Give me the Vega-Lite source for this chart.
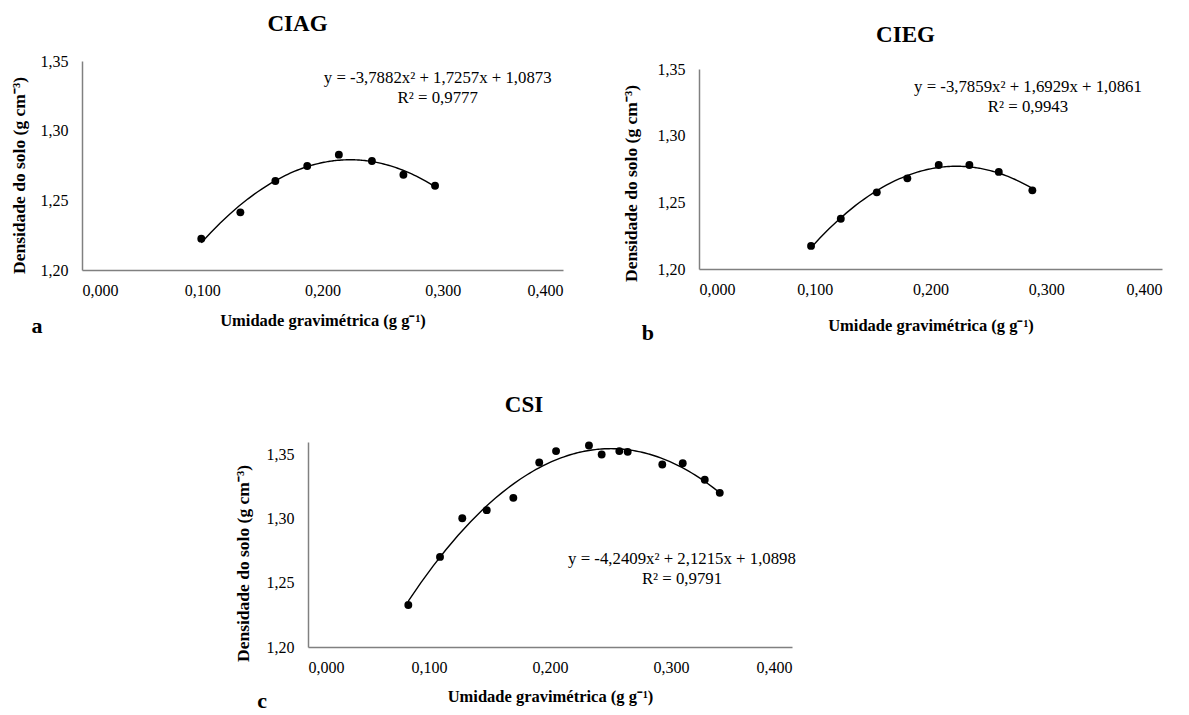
{
  "$schema": "https://vega.github.io/schema/vega-lite/v6.json",
  "autosize": {"type": "none"},
  "padding": {"left": 82, "top": 61, "right": 1107, "bottom": 654},
  "background": "white",
  "config": {
    "view": {"stroke": null},
    "font": "Liberation Serif",
    "axis": {
      "ticks": false,
      "grid": false,
      "domainColor": "#808080",
      "domainWidth": 1.5,
      "labelFont": "Liberation Serif",
      "labelFontSize": 16,
      "labelColor": "#000000",
      "titleFont": "Liberation Serif",
      "titleFontSize": 16.5,
      "titleFontWeight": "bold",
      "titleColor": "#000000"
    },
    "axisX": {"labelPadding": 12, "titleBaseline": "middle"},
    "axisY": {"labelPadding": 14, "titleBaseline": "middle", "titleFontSize": 17.5},
    "title": {"font": "Liberation Serif", "fontSize": 23, "fontWeight": "bold", "color": "#000000", "frame": "group", "anchor": "middle"}
  },
  "datasets": {
    "a": [
      {"x": 0.0992, "y": 1.2225},
      {"x": 0.1317, "y": 1.2414},
      {"x": 0.1608, "y": 1.2639},
      {"x": 0.1873, "y": 1.2746},
      {"x": 0.2136, "y": 1.2828},
      {"x": 0.2411, "y": 1.2782},
      {"x": 0.2673, "y": 1.2684},
      {"x": 0.2936, "y": 1.2605}
    ],
    "b": [
      {"x": 0.0968, "y": 1.2173},
      {"x": 0.1225, "y": 1.2377},
      {"x": 0.1536, "y": 1.2575},
      {"x": 0.1800, "y": 1.2680},
      {"x": 0.2071, "y": 1.2780},
      {"x": 0.2336, "y": 1.2780},
      {"x": 0.2590, "y": 1.2728},
      {"x": 0.2880, "y": 1.2590}
    ],
    "c": [
      {"x": 0.0829, "y": 1.2328},
      {"x": 0.1091, "y": 1.2703},
      {"x": 0.1275, "y": 1.3005},
      {"x": 0.1477, "y": 1.3068},
      {"x": 0.1697, "y": 1.3164},
      {"x": 0.1911, "y": 1.3440},
      {"x": 0.2050, "y": 1.3529},
      {"x": 0.2322, "y": 1.3573},
      {"x": 0.2427, "y": 1.3502},
      {"x": 0.2573, "y": 1.3529},
      {"x": 0.2642, "y": 1.3523},
      {"x": 0.2928, "y": 1.3424},
      {"x": 0.3097, "y": 1.3435},
      {"x": 0.3279, "y": 1.3305},
      {"x": 0.3403, "y": 1.3203}
    ],
    "one": [{"k": 1}]
  },
  "bounds": "flush",
  "spacing": 381,
  "vconcat": [
    {
      "bounds": "flush",
      "spacing": 0,
      "hconcat": [
        {
          "width": 481,
          "height": 209,
          "title": {"text": "CIAG", "dx": -25, "offset": 17},
          "layer": [
            {"data": {"name": "a"}, "mark": {"type": "circle", "size": 62, "color": "#000000", "opacity": 1},
             "encoding": {
               "x": {"field": "x", "type": "quantitative", "scale": {"domain": [0, 0.4], "nice": false},
                 "axis": {"values": [0, 0.1, 0.2, 0.3, 0.4], "labelExpr": "replace(format(datum.value,'.3f'),'.',',')", "title": "Umidade gravimétrica (g g⁻¹)", "titleY": 50}},
               "y": {"field": "y", "type": "quantitative", "scale": {"domain": [1.2, 1.35], "zero": false, "nice": false},
                 "axis": {"values": [1.2, 1.25, 1.3, 1.35], "labelExpr": "replace(format(datum.value,'.2f'),'.',',')", "title": "Densidade do solo (g cm⁻³)", "titleX": -63, "titleY": 114}}
             }},
            {"data": {"name": "a"}, "transform": [{"regression": "y", "on": "x", "method": "poly", "order": 2}],
             "mark": {"type": "line", "color": "#000000", "strokeWidth": 1.4},
             "encoding": {"x": {"field": "x", "type": "quantitative", "scale": {"domain": [0, 0.4], "nice": false}}, "y": {"field": "y", "type": "quantitative", "scale": {"domain": [1.2, 1.35], "zero": false, "nice": false}}}},
            {"data": {"name": "one"},
             "mark": {"type": "text", "fontSize": 16.8, "align": "center", "baseline": "middle", "lineHeight": 20, "color": "#000000"},
             "encoding": {"x": {"datum": 0.2958, "type": "quantitative", "scale": {"domain": [0, 0.4], "nice": false}}, "y": {"datum": 1.3378, "type": "quantitative", "scale": {"domain": [1.2, 1.35], "zero": false, "nice": false}}, "text": {"value": ["y = -3,7882x² + 1,7257x + 1,0873", "R² = 0,9777"]}}},
            {"data": {"name": "one"},
             "mark": {"type": "text", "fontSize": 22, "fontWeight": "bold", "align": "center", "baseline": "middle", "color": "#000000"},
             "encoding": {"x": {"datum": -0.0375, "type": "quantitative", "scale": {"domain": [0, 0.4], "nice": false}}, "y": {"datum": 1.1598, "type": "quantitative", "scale": {"domain": [1.2, 1.35], "zero": false, "nice": false}}, "text": {"value": "a"}}}
          ]
        },
        {
          "width": 136,
          "height": 1,
          "data": {"name": "one"},
          "mark": {"type": "point", "opacity": 0},
          "encoding": {}
        },
        {
          "bounds": "flush",
          "spacing": 0,
          "vconcat": [
            {
              "width": 1,
              "height": 8,
              "data": {"name": "one"},
              "mark": {"type": "point", "opacity": 0},
              "encoding": {}
            },
            {
              "width": 463,
              "height": 200,
              "title": {"text": "CIEG", "dx": -25, "offset": 14},
              "layer": [
                {"data": {"name": "b"}, "mark": {"type": "circle", "size": 62, "color": "#000000", "opacity": 1},
                 "encoding": {
                   "x": {"field": "x", "type": "quantitative", "scale": {"domain": [0, 0.4], "nice": false},
                     "axis": {"values": [0, 0.1, 0.2, 0.3, 0.4], "labelExpr": "replace(format(datum.value,'.3f'),'.',',')", "title": "Umidade gravimétrica (g g⁻¹)", "titleY": 56}},
                   "y": {"field": "y", "type": "quantitative", "scale": {"domain": [1.2, 1.35], "zero": false, "nice": false},
                     "axis": {"values": [1.2, 1.25, 1.3, 1.35], "labelExpr": "replace(format(datum.value,'.2f'),'.',',')", "title": "Densidade do solo (g cm⁻³)", "titleX": -68, "titleY": 114}}
                 }},
                {"data": {"name": "b"}, "transform": [{"regression": "y", "on": "x", "method": "poly", "order": 2}],
                 "mark": {"type": "line", "color": "#000000", "strokeWidth": 1.4},
                 "encoding": {"x": {"field": "x", "type": "quantitative", "scale": {"domain": [0, 0.4], "nice": false}}, "y": {"field": "y", "type": "quantitative", "scale": {"domain": [1.2, 1.35], "zero": false, "nice": false}}}},
                {"data": {"name": "one"},
                 "mark": {"type": "text", "fontSize": 16.8, "align": "center", "baseline": "middle", "lineHeight": 20, "color": "#000000"},
                 "encoding": {"x": {"datum": 0.2842, "type": "quantitative", "scale": {"domain": [0, 0.4], "nice": false}}, "y": {"datum": 1.3365, "type": "quantitative", "scale": {"domain": [1.2, 1.35], "zero": false, "nice": false}}, "text": {"value": ["y = -3,7859x² + 1,6929x + 1,0861", "R² = 0,9943"]}}},
                {"data": {"name": "one"},
                 "mark": {"type": "text", "fontSize": 22, "fontWeight": "bold", "align": "center", "baseline": "middle", "color": "#000000"},
                 "encoding": {"x": {"datum": -0.0441, "type": "quantitative", "scale": {"domain": [0, 0.4], "nice": false}}, "y": {"datum": 1.152, "type": "quantitative", "scale": {"domain": [1.2, 1.35], "zero": false, "nice": false}}, "text": {"value": "b"}}}
              ]
            }
          ]
        }
      ]
    },
    {
      "bounds": "flush",
      "spacing": 0,
      "hconcat": [
        {
          "width": 226,
          "height": 1,
          "data": {"name": "one"},
          "mark": {"type": "point", "opacity": 0},
          "encoding": {}
        },
        {
          "width": 484,
          "height": 205,
          "title": {"text": "CSI", "dx": -26, "offset": 25},
          "layer": [
            {"data": {"name": "c"}, "mark": {"type": "circle", "size": 62, "color": "#000000", "opacity": 1},
             "encoding": {
               "x": {"field": "x", "type": "quantitative", "scale": {"domain": [0, 0.4], "nice": false},
                 "axis": {"values": [0, 0.1, 0.2, 0.3, 0.4], "labelExpr": "replace(format(datum.value,'.3f'),'.',',')", "title": "Umidade gravimétrica (g g⁻¹)", "titleY": 49}},
               "y": {"field": "y", "type": "quantitative", "scale": {"domain": [1.2, 1.36], "zero": false, "nice": false},
                 "axis": {"values": [1.2, 1.25, 1.3, 1.35], "labelExpr": "replace(format(datum.value,'.2f'),'.',',')", "title": "Densidade do solo (g cm⁻³)", "titleX": -65, "titleY": 121}}
             }},
            {"data": {"name": "c"}, "transform": [{"regression": "y", "on": "x", "method": "poly", "order": 2}],
             "mark": {"type": "line", "color": "#000000", "strokeWidth": 1.4},
             "encoding": {"x": {"field": "x", "type": "quantitative", "scale": {"domain": [0, 0.4], "nice": false}}, "y": {"field": "y", "type": "quantitative", "scale": {"domain": [1.2, 1.36], "zero": false, "nice": false}}}},
            {"data": {"name": "one"},
             "mark": {"type": "text", "fontSize": 16.8, "align": "center", "baseline": "middle", "lineHeight": 20, "color": "#000000"},
             "encoding": {"x": {"datum": 0.3091, "type": "quantitative", "scale": {"domain": [0, 0.4], "nice": false}}, "y": {"datum": 1.2688, "type": "quantitative", "scale": {"domain": [1.2, 1.36], "zero": false, "nice": false}}, "text": {"value": ["y = -4,2409x² + 2,1215x + 1,0898", "R² = 0,9791"]}}},
            {"data": {"name": "one"},
             "mark": {"type": "text", "fontSize": 22, "fontWeight": "bold", "align": "center", "baseline": "middle", "color": "#000000"},
             "encoding": {"x": {"datum": -0.038, "type": "quantitative", "scale": {"domain": [0, 0.4], "nice": false}}, "y": {"datum": 1.1578, "type": "quantitative", "scale": {"domain": [1.2, 1.36], "zero": false, "nice": false}}, "text": {"value": "c"}}}
          ]
        }
      ]
    }
  ]
}
